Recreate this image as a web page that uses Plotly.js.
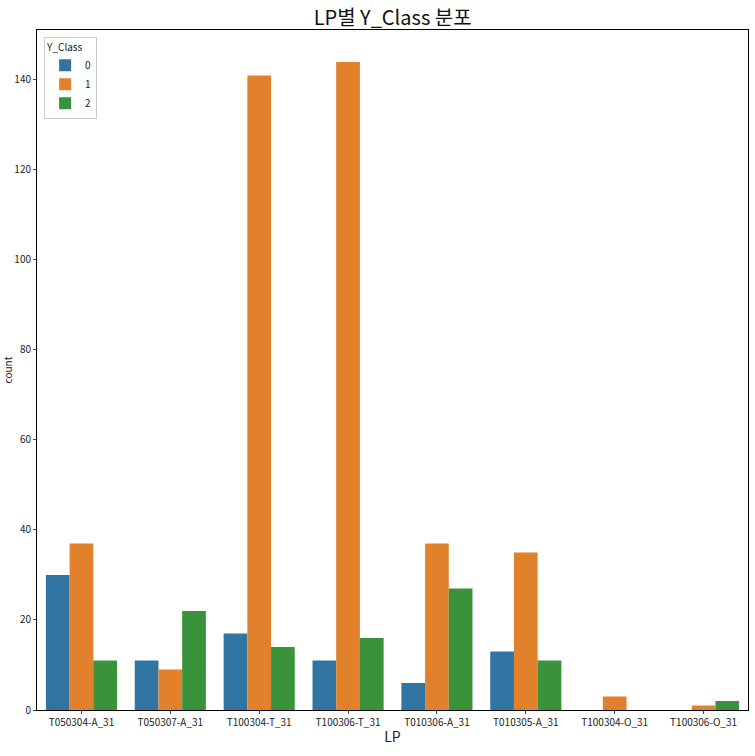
<!DOCTYPE html>
<html><head><meta charset="utf-8">
<script src="https://cdn.plot.ly/plotly-3.0.1.min.js"></script>
<style>body{margin:0}</style></head><body>
<div id="c" style="width:755px;height:756px"></div>
<script>
const categories = ["T050304-A_31","T050307-A_31","T100304-T_31","T100306-T_31","T010306-A_31","T010305-A_31","T100304-O_31","T100306-O_31"];
const class0 = [30,11,17,11,6,13,0,0];
const class1 = [37,9,141,144,37,35,3,1];
const class2 = [11,22,14,16,27,11,0,2];
const seriesNames = ["0","1","2"];
const colors = ["#3274a1","#e1812c","#3a923a"];
const data = [class0,class1,class2].map((v,i)=>({type:"bar",x:categories,y:v,name:seriesNames[i],marker:{color:colors[i]}}));
const f = "Noto Sans CJK KR, sans-serif";
Plotly.newPlot("c",data,{
  width:755,height:756,
  margin:{l:37,r:7,t:30,b:46},
  font:{family:f,size:10,color:"#222"},
  title:{text:"LP별 Y_Class 분포",x:0.52,y:0.985,yanchor:"top",font:{size:20,family:f,color:"#111"}},
  barmode:"group",bargap:0.2,bargroupgap:0,
  xaxis:{title:{text:"LP",font:{size:14},standoff:4},showline:true,mirror:true,linecolor:"#000",ticks:"outside",ticklen:3,tickfont:{size:10}},
  yaxis:{title:{text:"count",font:{size:10}},range:[0,151.1],dtick:20,showgrid:false,zeroline:false,showline:true,mirror:true,linecolor:"#000",ticks:"outside",ticklen:3},
  legend:{title:{text:"Y_Class",font:{size:10}},x:0.01,y:0.99,xanchor:"left",yanchor:"top",bordercolor:"#ccc",borderwidth:1,bgcolor:"rgba(255,255,255,0.8)",font:{size:10}},
  plot_bgcolor:"#fff",paper_bgcolor:"#fff"
},{staticPlot:true});
</script></body></html>
